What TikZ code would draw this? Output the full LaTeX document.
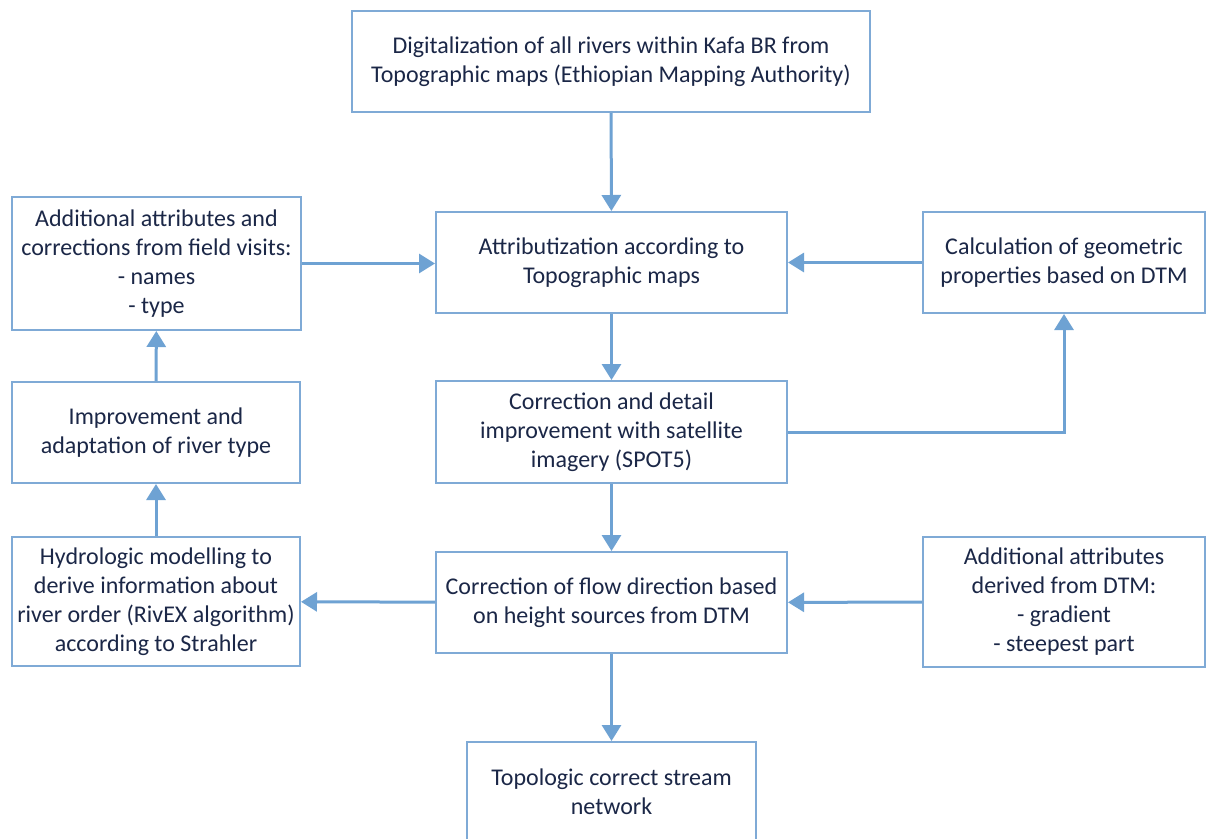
\documentclass[tikz,border=0pt]{standalone}
\usepackage{fontspec}
\setmainfont{Carlito}
\usetikzlibrary{arrows.meta}
\definecolor{boxblue}{HTML}{7FAAD6}
\definecolor{arrblue}{HTML}{6EA2D3}
\definecolor{txt}{HTML}{1B2747}
\begin{document}
\begin{tikzpicture}[x=1pt,y=-1pt,
  box/.style={draw=boxblue,line width=2pt,fill=white,align=center,text=txt,
    inner sep=0pt,font=\fontsize{24}{29}\selectfont},
  arr/.style={draw=arrblue,line width=3pt,-{Triangle[length=16pt,width=19pt]}}]
\useasboundingbox (0,0) rectangle (1209,838);
\fill[white] (0,0) rectangle (1209,838);
\node[box,minimum width=518pt,minimum height=101pt] (top) at (611,61.5)
  {Digitalization of all rivers within Kafa BR from\\Topographic maps (Ethiopian Mapping Authority)};
\node[box,minimum width=351pt,minimum height=101pt] (attr) at (611.5,262.5)
  {Attributization according to\\Topographic maps};
\node[box,minimum width=351pt,minimum height=102pt] (corr) at (611.5,432)
  {Correction and detail\\improvement with satellite\\imagery (SPOT5)};
\node[box,minimum width=351pt,minimum height=101pt] (flow) at (611.5,602.5)
  {Correction of flow direction based\\on height sources from DTM};
\node[box,minimum width=289pt,minimum height=99pt] (final) at (611.5,791.5)
  {Topologic correct stream\\network};
\node[box,minimum width=289pt,minimum height=133pt] (field) at (156.5,263.5)
  {Additional attributes and\\corrections from field visits:\\- names\\- type};
\node[box,minimum width=288pt,minimum height=101pt] (improve) at (156,432.5)
  {Improvement and\\adaptation of river type};
\node[box,minimum width=288pt,minimum height=129pt] (hydro) at (156,601.5)
  {Hydrologic modelling to\\derive information about\\river order (RivEX algorithm)\\according to Strahler};
\node[box,minimum width=282pt,minimum height=101pt] (geom) at (1064,262.5)
  {Calculation of geometric\\properties based on DTM};
\node[box,minimum width=282pt,minimum height=130pt] (dtm) at (1064,602)
  {Additional attributes\\derived from DTM:\\- gradient\\- steepest part};
\draw[arr] (top) -- (attr);
\draw[arr] (attr) -- (corr);
\draw[arr] (corr) -- (flow);
\draw[arr] (flow) -- (final);
\draw[arr] (field.east) -- (field.east -| attr.west);
\draw[arr] (geom) -- (attr);
\draw[arr] (corr.east) -| (geom.south);
\draw[arr] (flow) -- (hydro);
\draw[arr] (dtm) -- (flow);
\draw[arr] (hydro) -- (improve);
\draw[arr] (improve) -- (field);
\end{tikzpicture}
\end{document}
